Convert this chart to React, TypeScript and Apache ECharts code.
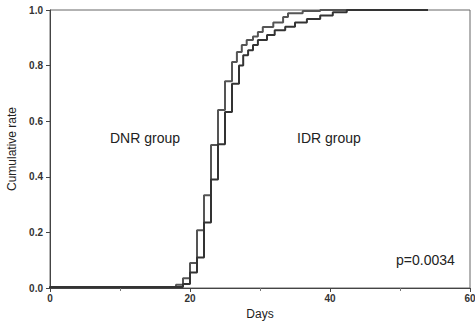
import React, { useEffect, useRef } from "react";
import * as echarts from "echarts";

// Days at which each cumulative curve steps, with the cumulative rate reached
const dnrDays = [0, 18, 19, 20, 21, 22, 23, 24, 25, 26, 26.7, 27.4, 28.1, 29, 29.7, 30.4, 31.9, 33.3, 34, 36.1, 38.6, 41, 54];
const dnrRate = [0, 0.004, 0.012, 0.035, 0.09, 0.208, 0.334, 0.514, 0.64, 0.744, 0.813, 0.849, 0.874, 0.892, 0.905, 0.921, 0.939, 0.955, 0.975, 0.988, 0.996, 1.0, 1.0];

const idrDays = [0, 19, 20, 21, 22, 23, 24, 25, 26, 27, 27.6, 28.3, 29, 29.7, 31, 32.1, 33.6, 35, 36.7, 38.6, 40.4, 42.4, 43.5, 54];
const idrRate = [0, 0.004, 0.014, 0.056, 0.11, 0.236, 0.39, 0.517, 0.633, 0.735, 0.8, 0.837, 0.855, 0.874, 0.892, 0.91, 0.927, 0.94, 0.955, 0.968, 0.98, 0.992, 1.0, 1.0];

const xTicks = [0, 20, 40, 60];
const yTicks = [0, 0.2, 0.4, 0.6, 0.8, 1.0];
const groupLabels = ["DNR group", "IDR group"];
const pText = "p=0.0034";

export default function App() {
  const ref = useRef<HTMLDivElement>(null);
  useEffect(() => {
    if (!ref.current) return;
    const chart = echarts.init(ref.current, undefined, { renderer: "svg" });
    const font = "Arial, 'Liberation Sans', sans-serif";
    chart.setOption({
      animation: false,
      backgroundColor: "#ffffff",
      grid: {
        left: 50,
        right: 5,
        top: 10,
        bottom: 33,
        containLabel: false,
        outerBoundsMode: "none",
        show: true,
        borderColor: "#666",
        borderWidth: 1,
      },
      xAxis: {
        type: "value",
        min: xTicks[0],
        max: xTicks[xTicks.length - 1],
        interval: 20,
        name: "Days",
        nameLocation: "middle",
        nameGap: 16,
        nameTextStyle: { fontFamily: font, fontSize: 12, color: "#222" },
        axisLine: { lineStyle: { color: "#444", width: 1 } },
        axisTick: { show: true, length: 4, lineStyle: { color: "#444" } },
        minorTick: { show: true, splitNumber: 2, length: 3, lineStyle: { color: "#777" } },
        axisLabel: { fontFamily: font, fontSize: 10, fontWeight: "bold", color: "#333", margin: 5 },
        splitLine: { show: false },
      },
      yAxis: {
        type: "value",
        min: yTicks[0],
        max: yTicks[yTicks.length - 1],
        interval: 0.2,
        name: "Cumulative rate",
        nameLocation: "middle",
        nameGap: 32,
        nameTextStyle: { fontFamily: font, fontSize: 12, color: "#222" },
        axisLine: { show: true, lineStyle: { color: "#444", width: 1 } },
        axisTick: { show: true, length: 4, lineStyle: { color: "#444" } },
        axisLabel: {
          fontFamily: font,
          fontSize: 10,
          fontWeight: "bold",
          color: "#333",
          margin: 7,
          formatter: (v: number) => v.toFixed(1),
        },
        splitLine: { show: false },
      },
      series: [
        {
          name: groupLabels[0],
          type: "line",
          step: "start",
          showSymbol: false,
          data: dnrDays.map((d, i) => [d, dnrRate[i]]),
          lineStyle: { color: "#555", width: 2 },
        },
        {
          name: groupLabels[1],
          type: "line",
          step: "start",
          showSymbol: false,
          data: idrDays.map((d, i) => [d, idrRate[i]]),
          lineStyle: { color: "#333", width: 2 },
        },
      ],
      graphic: [
        {
          type: "text",
          left: 110,
          top: 131,
          style: { text: groupLabels[0], fontFamily: font, fontSize: 14, fill: "#222" },
        },
        {
          type: "text",
          left: 297,
          top: 131,
          style: { text: groupLabels[1], fontFamily: font, fontSize: 14, fill: "#222" },
        },
        {
          type: "text",
          left: 396,
          top: 253,
          style: { text: pText, fontFamily: font, fontSize: 14, fill: "#222" },
        },
      ],
    });
    return () => chart.dispose();
  }, []);
  return (
    <div
      ref={ref}
      style={{ position: "fixed", left: 0, top: 0, width: 475, height: 321 }}
    />
  );
}
